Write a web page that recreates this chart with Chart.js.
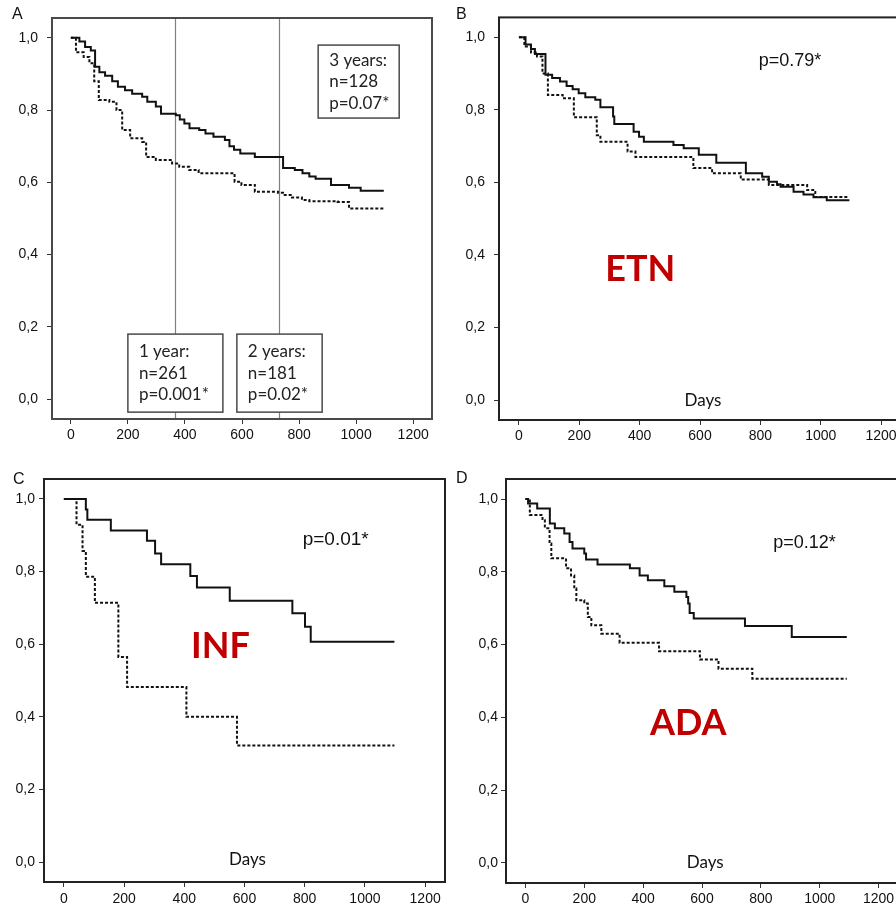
<!DOCTYPE html>
<html>
<head>
<meta charset="utf-8">
<script src="https://cdn.jsdelivr.net/npm/chart.js@4/dist/chart.umd.min.js"></script>
<style>
  html, body { margin: 0; padding: 0; background: #fff; overflow: hidden; width: 896px; height: 906px; }
  canvas { position: absolute; }
</style>
</head>
<body>
<canvas id="panelA" width="448" height="450" style="left:0;top:0"></canvas>
<canvas id="panelB" width="470" height="450" style="left:448px;top:0"></canvas>
<canvas id="panelC" width="448" height="456" style="left:0;top:450px"></canvas>
<canvas id="panelD" width="470" height="456" style="left:448px;top:450px"></canvas>
<script>
// Axis ticks shared by all four survival plots
const xTickValues = [0, 200, 400, 600, 800, 1000, 1200];
const xTickLabels = ['0', '200', '400', '600', '800', '1000', '1200'];
const yTickValues = [0, 0.2, 0.4, 0.6, 0.8, 1.0];
const yTickLabels = ['0,0', '0,2', '0,4', '0,6', '0,8', '1,0'];

// A – all patients (solid / dashed group)
const daysAllSolid = [0, 30, 50, 70, 85, 100, 120, 145, 165, 190, 215, 250, 268, 298, 316, 368, 382, 398, 416, 450, 472, 500, 540, 556, 572, 594, 645, 744, 785, 812, 836, 858, 912, 975, 1016, 1097];
const survAllSolid = [1.0, 0.99, 0.975, 0.965, 0.92, 0.905, 0.895, 0.88, 0.865, 0.855, 0.845, 0.837, 0.823, 0.81, 0.79, 0.786, 0.774, 0.763, 0.75, 0.745, 0.735, 0.726, 0.717, 0.70, 0.69, 0.68, 0.67, 0.64, 0.634, 0.625, 0.616, 0.61, 0.593, 0.585, 0.577, 0.577];
const daysAllDashed = [0, 18, 45, 65, 82, 98, 135, 160, 180, 208, 250, 264, 298, 355, 380, 415, 448, 574, 598, 645, 726, 744, 775, 810, 836, 935, 975, 1097];
const survAllDashed = [1.0, 0.96, 0.947, 0.93, 0.88, 0.828, 0.823, 0.80, 0.745, 0.722, 0.712, 0.67, 0.662, 0.652, 0.643, 0.634, 0.625, 0.602, 0.593, 0.574, 0.571, 0.565, 0.558, 0.551, 0.548, 0.546, 0.528, 0.528];

// B – ETN
const daysEtnSolid = [0, 22, 40, 53, 88, 110, 136, 158, 178, 198, 220, 253, 270, 312, 316, 380, 398, 414, 512, 546, 596, 654, 752, 806, 828, 855, 867, 910, 943, 976, 1020, 1095];
const survEtnSolid = [1.0, 0.98, 0.968, 0.954, 0.897, 0.888, 0.878, 0.866, 0.857, 0.846, 0.835, 0.828, 0.807, 0.782, 0.761, 0.74, 0.726, 0.712, 0.703, 0.694, 0.676, 0.654, 0.625, 0.616, 0.602, 0.595, 0.588, 0.574, 0.567, 0.559, 0.551, 0.551];
const daysEtnDashed = [0, 18, 40, 60, 78, 96, 145, 182, 258, 270, 360, 386, 578, 640, 735, 828, 955, 982, 1095];
const survEtnDashed = [1.0, 0.975, 0.958, 0.947, 0.90, 0.841, 0.832, 0.78, 0.73, 0.712, 0.685, 0.67, 0.64, 0.625, 0.608, 0.593, 0.579, 0.56, 0.56];

// C – INF
const daysInfSolid = [0, 73, 78, 156, 276, 303, 323, 420, 442, 551, 759, 801, 820, 1098];
const survInfSolid = [1.0, 0.971, 0.943, 0.913, 0.885, 0.85, 0.82, 0.788, 0.756, 0.72, 0.685, 0.648, 0.607, 0.607];
const daysInfDashed = [0, 42, 62, 73, 103, 181, 210, 407, 575, 1098];
const survInfDashed = [1.0, 0.929, 0.857, 0.786, 0.714, 0.565, 0.482, 0.40, 0.321, 0.321];

// D – ADA
const daysAdaSolid = [0, 9, 40, 83, 100, 132, 150, 160, 200, 206, 245, 355, 388, 416, 472, 506, 547, 553, 558, 572, 746, 905, 1092];
const survAdaSolid = [1.0, 0.988, 0.974, 0.933, 0.92, 0.905, 0.882, 0.864, 0.85, 0.834, 0.82, 0.81, 0.79, 0.777, 0.76, 0.745, 0.731, 0.713, 0.687, 0.672, 0.651, 0.621, 0.621];
const daysAdaDashed = [0, 15, 58, 66, 82, 88, 138, 155, 166, 173, 200, 212, 224, 258, 320, 454, 593, 656, 771, 1092];
const survAdaDashed = [1.0, 0.956, 0.942, 0.92, 0.878, 0.837, 0.81, 0.79, 0.754, 0.722, 0.713, 0.676, 0.653, 0.63, 0.605, 0.582, 0.559, 0.534, 0.506, 0.506];

const X_MIN = -66, X_MAX = 1266;
const Y_MIN = -0.055, Y_MAX = 1.055;

const TICK_FONT = { family: '"Liberation Sans", Arial, sans-serif', size: 14 };
const RED = '#c00000';

function toPoints(days, surv) {
  return days.map((d, i) => ({ x: d, y: surv[i] }));
}

function drawText(c, text, px, py, font, color, align) {
  c.save();
  c.font = font;
  c.fillStyle = color;
  c.textAlign = align || 'center';
  c.textBaseline = 'middle';
  c.fillText(text, px, py);
  c.restore();
}

function makePanel(id, cfg) {
  const canvas = document.getElementById(id);
  const W = canvas.width, H = canvas.height;
  const area = cfg.area;

  const notes = {
    id: 'kmNotes',
    beforeDatasetsDraw(chart) {
      const { ctx: c, chartArea: a, scales: { x } } = chart;
      (cfg.refLines || []).forEach(d => {
        const px = Math.round(x.getPixelForValue(d)) + 0.5;
        c.save();
        c.strokeStyle = '#808080';
        c.lineWidth = 1.2;
        c.beginPath();
        c.moveTo(px, a.top);
        c.lineTo(px, a.bottom);
        c.stroke();
        c.restore();
      });
    },
    afterDatasetsDraw(chart) {
      const { ctx: c, chartArea: a, scales: { x, y } } = chart;
      (cfg.boxes || []).forEach(b => {
        const x0 = x.getPixelForValue(b.x0), x1 = x.getPixelForValue(b.x1);
        const y0 = y.getPixelForValue(b.y0), y1 = y.getPixelForValue(b.y1);
        c.save();
        c.fillStyle = '#fff';
        c.fillRect(x0, y0, x1 - x0, y1 - y0);
        c.strokeStyle = '#4a4a4a';
        c.lineWidth = 1.5;
        c.strokeRect(x0, y0, x1 - x0, y1 - y0);
        c.restore();
        const mid = (y0 + y1) / 2;
        b.lines.forEach((t, i) => {
          drawText(c, t, x0 + 11, mid + (i - 1) * 21.5, '17px Lato, "Open Sans", sans-serif', '#222', 'left');
        });
      });
      (cfg.labels || []).forEach(l => {
        drawText(c, l.text, x.getPixelForValue(l.x), y.getPixelForValue(l.y), l.font, l.color || '#111', 'center');
      });
      // plot frame
      c.save();
      c.strokeStyle = cfg.frameColor || '#222';
      c.lineWidth = 2;
      c.strokeRect(a.left, a.top, a.right - a.left, a.bottom - a.top);
      c.restore();
      // panel letter
      drawText(c, cfg.letter, cfg.letterPos[0], cfg.letterPos[1], '16px "Liberation Sans", Arial, sans-serif', '#111', 'left');
    }
  };

  new Chart(canvas, {
    type: 'line',
    data: {
      datasets: [
        {
          data: toPoints(cfg.solid[0], cfg.solid[1]),
          borderColor: '#111',
          borderWidth: 2,
          stepped: 'before',
          pointRadius: 0,
          fill: false
        },
        {
          data: toPoints(cfg.dashed[0], cfg.dashed[1]),
          borderColor: '#111',
          borderWidth: 2,
          borderDash: [3, 2],
          stepped: 'before',
          pointRadius: 0,
          fill: false
        }
      ]
    },
    options: {
      responsive: false,
      animation: false,
      devicePixelRatio: 1,
      layout: { padding: { left: 0, top: area.top, right: W - area.right, bottom: 0 } },
      plugins: { legend: { display: false }, tooltip: { enabled: false } },
      scales: {
        x: {
          type: 'linear',
          min: X_MIN,
          max: X_MAX,
          afterBuildTicks: s => { s.ticks = xTickValues.map(v => ({ value: v })); },
          afterFit: s => { s.height = H - area.bottom; },
          grid: { display: true, drawOnChartArea: false, drawTicks: true, tickLength: 5, color: '#333', lineWidth: 1 },
          border: { display: false },
          ticks: {
            font: TICK_FONT, color: '#111', padding: cfg.xPad, maxRotation: 0, autoSkip: false,
            callback: v => xTickLabels[xTickValues.indexOf(v)]
          }
        },
        y: {
          type: 'linear',
          min: Y_MIN,
          max: Y_MAX,
          afterBuildTicks: s => { s.ticks = yTickValues.map(v => ({ value: v })); },
          afterFit: s => { s.width = area.left; },
          grid: { display: true, drawOnChartArea: false, drawTicks: true, tickLength: 5, color: '#333', lineWidth: 1 },
          border: { display: false },
          ticks: {
            font: TICK_FONT, color: '#111', padding: cfg.yPad, autoSkip: false,
            callback: v => yTickLabels[yTickValues.findIndex(t => Math.abs(t - v) < 1e-9)]
          }
        }
      }
    },
    plugins: [notes]
  });
}

const DAYS_FONT = '17px Lato, "Open Sans", sans-serif';
const DRUG_FONT = 'bold 36px Lato, "Open Sans", sans-serif';

makePanel('panelA', {
  area: { left: 52, top: 18, right: 432, bottom: 419 },
  xPad: 3, yPad: 9,
  letter: 'A', letterPos: [12, 15],
  frameColor: '#4a4a4a',
  solid: [daysAllSolid, survAllSolid],
  dashed: [daysAllDashed, survAllDashed],
  refLines: [365, 730],
  boxes: [
    { x0: 200, x1: 533, y0: 0.18, y1: -0.036, lines: ['1 year:', 'n=261', 'p=0.001*'] },
    { x0: 582, x1: 881, y0: 0.18, y1: -0.036, lines: ['2 years:', 'n=181', 'p=0.02*'] },
    { x0: 867, x1: 1151, y0: 0.98, y1: 0.778, lines: ['3 years:', 'n=128', 'p=0.07*'] }
  ]
});

makePanel('panelB', {
  area: { left: 51, top: 17, right: 453, bottom: 420 },
  xPad: 3, yPad: 9,
  letter: 'B', letterPos: [8, 15],
  solid: [daysEtnSolid, survEtnSolid],
  dashed: [daysEtnDashed, survEtnDashed],
  labels: [
    { text: 'p=0.79*', x: 898, y: 0.935, font: '18px "Liberation Sans", Arial, sans-serif' },
    { text: 'ETN', x: 402, y: 0.36, font: DRUG_FONT, color: RED },
    { text: 'Days', x: 610, y: 0.0, font: DAYS_FONT }
  ]
});

makePanel('panelC', {
  area: { left: 44, top: 29, right: 445, bottom: 432 },
  xPad: 4, yPad: 4,
  letter: 'C', letterPos: [13, 30],
  solid: [daysInfSolid, survInfSolid],
  dashed: [daysInfDashed, survInfDashed],
  labels: [
    { text: 'p=0.01*', x: 903, y: 0.889, font: '19px "Liberation Sans", Arial, sans-serif' },
    { text: 'INF', x: 520, y: 0.593, font: DRUG_FONT, color: RED },
    { text: 'Days', x: 610, y: 0.008, font: DAYS_FONT }
  ]
});

makePanel('panelD', {
  area: { left: 58, top: 29, right: 450, bottom: 433 },
  xPad: 3, yPad: 3,
  letter: 'D', letterPos: [8, 29],
  solid: [daysAdaSolid, survAdaSolid],
  dashed: [daysAdaDashed, survAdaDashed],
  labels: [
    { text: 'p=0.12*', x: 948, y: 0.879, font: '18px "Liberation Sans", Arial, sans-serif' },
    { text: 'ADA', x: 553, y: 0.384, font: DRUG_FONT, color: RED },
    { text: 'Days', x: 611, y: 0.0, font: DAYS_FONT }
  ]
});
</script>
</body>
</html>
